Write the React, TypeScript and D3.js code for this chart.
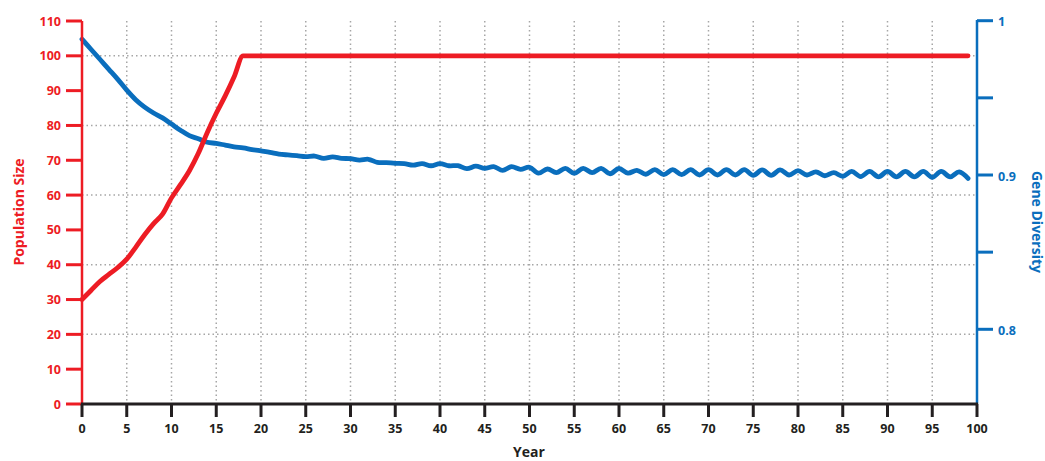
import React from "react";
import * as d3 from "d3";

const years: number[] = Array.from({ length: 100 }, (_, i) => i);

const populationEarly: number[] = [
  30, 32.6, 35.2, 37.2, 39.2, 41.6, 45, 48.6, 51.8, 54.5,
  59.2, 63, 67, 72, 78, 83.5, 88.5, 94, 100,
];
const populationPlateau = 100;

const geneDiversity: number[] = [
  0.988, 0.9815, 0.975, 0.9685, 0.962, 0.955, 0.9488, 0.944, 0.9402, 0.937,
  0.933, 0.929, 0.9255, 0.9235, 0.9212, 0.9205, 0.9194, 0.9183, 0.9176, 0.9165,
  0.9156, 0.9147, 0.9136, 0.913, 0.9125, 0.9119, 0.9123, 0.9108, 0.9117, 0.9108,
  0.9106, 0.9097, 0.9102, 0.9082, 0.908, 0.9076, 0.9074, 0.9064, 0.9074, 0.906,
  0.9074, 0.906, 0.906, 0.9041, 0.9057, 0.9043, 0.9054, 0.903, 0.9054, 0.9037,
  0.905, 0.9012, 0.9039, 0.9015, 0.9043, 0.9011, 0.9043, 0.9015, 0.9043, 0.9008,
  0.9042, 0.9012, 0.903, 0.9005, 0.9035, 0.9003, 0.9035, 0.9003, 0.9035, 0.9,
  0.9035, 0.9, 0.9035, 0.9, 0.9035, 0.8998, 0.9033, 0.8998, 0.9033, 0.9,
  0.9028, 0.9, 0.902, 0.8995, 0.9015, 0.8992, 0.9023, 0.899, 0.9023, 0.8988,
  0.9023, 0.8988, 0.9023, 0.8988, 0.9023, 0.8985, 0.9023, 0.8988, 0.902, 0.8978,
];

const xTicks: number[] = d3.range(0, 101, 5);
const popTicks: number[] = d3.range(0, 111, 10);
const popGrid: number[] = [20, 40, 60, 80, 100];
const divTicks: number[] = [0.8, 0.85, 0.9, 0.95, 1];
const divLabels: number[] = [0.8, 0.9, 1];

const RED = "#ed1c24";
const BLUE = "#0a6ebd";
const DARK = "#231f20";
const FONT = "'Open Sans', 'Noto Sans', sans-serif";

export default function App() {
  const W = 1045, H = 461;
  const left = 82, right = 977, top = 21, bottom = 404;

  const x = d3.scaleLinear().domain([0, 100]).range([left, right]);
  const yPop = d3.scaleLinear().domain([0, 110]).range([bottom, top]);
  const yDiv = d3.scaleLinear().domain([0.8, 1]).range([329.3, 20.7]);

  const popData = years.map((yr) => ({
    yr,
    v: yr < populationEarly.length ? populationEarly[yr] : populationPlateau,
  }));
  const divData = years.map((yr) => ({ yr, v: geneDiversity[yr] }));

  const popLine = d3
    .line<{ yr: number; v: number }>()
    .x((d) => x(d.yr))
    .y((d) => yPop(d.v))
    .curve(d3.curveMonotoneX)(popData) as string;

  const divLine = d3
    .line<{ yr: number; v: number }>()
    .x((d) => x(d.yr))
    .y((d) => yDiv(d.v))
    .curve(d3.curveCatmullRom.alpha(0.5))(divData) as string;

  return (
    <svg
      width={W}
      height={H}
      style={{ position: "absolute", left: 0, top: 0, background: "#fff" }}
      fontFamily={FONT}
    >
      {/* grid */}
      <g stroke="#a6a6a6" strokeWidth={1.5} strokeDasharray="1.5 3">
        {xTicks
          .filter((t) => t > 0 && t < 100)
          .map((t) => (
            <line key={"gx" + t} x1={x(t)} x2={x(t)} y1={top} y2={bottom} />
          ))}
        {popGrid.map((t) => (
          <line key={"gy" + t} x1={left} x2={right} y1={yPop(t)} y2={yPop(t)} />
        ))}
      </g>

      {/* data lines */}
      <path d={divLine} fill="none" stroke={BLUE} strokeWidth={4.8} strokeLinecap="round" strokeLinejoin="round" />
      <path d={popLine} fill="none" stroke={RED} strokeWidth={4.8} strokeLinecap="round" strokeLinejoin="round" />

      {/* left axis */}
      <line x1={left} x2={left} y1={top} y2={bottom} stroke={RED} strokeWidth={2.5} />
      {popTicks.map((t) => (
        <g key={"lt" + t}>
          <line x1={left - 16} x2={left} y1={yPop(t)} y2={yPop(t)} stroke={RED} strokeWidth={3} />
          <text
            x={left - 21}
            y={yPop(t)}
            textAnchor="end"
            dominantBaseline="central"
            fill={RED}
            fontSize={12.5}
            fontWeight={700}
          >
            {t}
          </text>
        </g>
      ))}
      <text
        transform={`translate(18,212) rotate(-90)`}
        textAnchor="middle"
        dominantBaseline="central"
        fill={RED}
        fontSize={14}
        fontWeight={700}
      >
        Population Size
      </text>

      {/* right axis */}
      <line x1={right} x2={right} y1={top - 1} y2={bottom} stroke={BLUE} strokeWidth={2.5} />
      {divTicks.map((t) => (
        <line key={"rt" + t} x1={right} x2={right + 16} y1={yDiv(t)} y2={yDiv(t)} stroke={BLUE} strokeWidth={3} />
      ))}
      {divLabels.map((t) => (
        <text
          key={"rl" + t}
          x={right + 21}
          y={yDiv(t) + 1}
          textAnchor="start"
          dominantBaseline="central"
          fill={BLUE}
          fontSize={12.5}
          fontWeight={700}
        >
          {t === 1 ? "1" : t.toFixed(1)}
        </text>
      ))}
      <text
        transform={`translate(1037,222) rotate(90)`}
        textAnchor="middle"
        dominantBaseline="central"
        fill={BLUE}
        fontSize={14}
        fontWeight={700}
      >
        Gene Diversity
      </text>

      {/* bottom axis */}
      <line x1={left - 1} x2={right + 1} y1={bottom} y2={bottom} stroke={DARK} strokeWidth={3} />
      {xTicks.map((t) => (
        <g key={"bt" + t}>
          <line x1={x(t)} x2={x(t)} y1={bottom} y2={bottom + 13} stroke={DARK} strokeWidth={3} />
          <text
            x={x(t)}
            y={432.5}
            textAnchor="middle"
            fill={DARK}
            fontSize={12.5}
            fontWeight={700}
          >
            {t}
          </text>
        </g>
      ))}
      <text x={529} y={457} textAnchor="middle" fill={DARK} fontSize={14} fontWeight={700}>
        Year
      </text>
    </svg>
  );
}
